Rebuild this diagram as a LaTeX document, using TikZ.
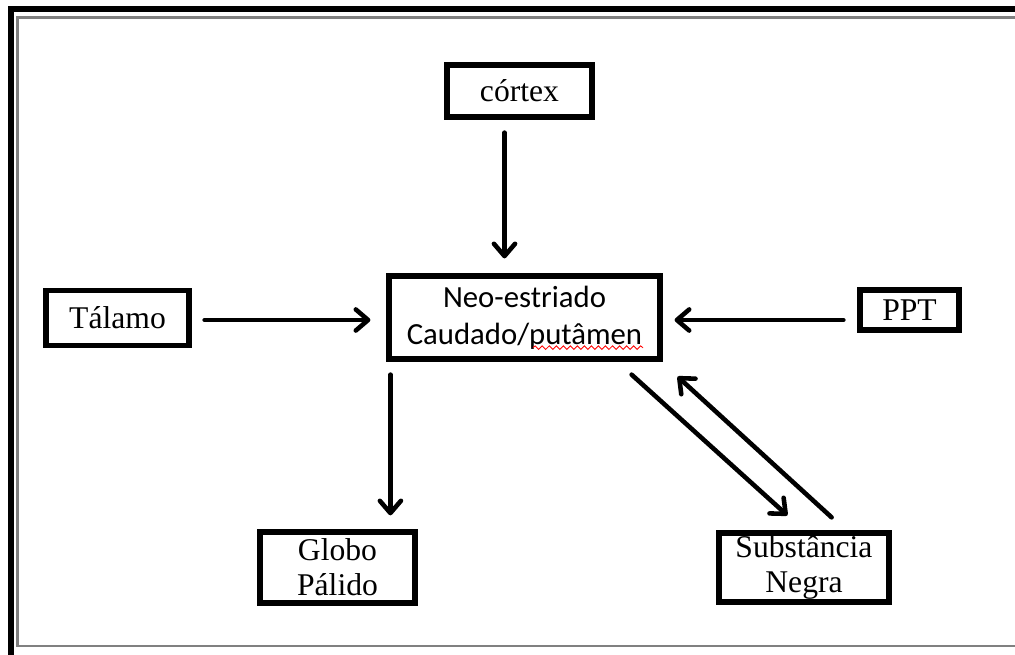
\documentclass[tikz,border=0pt]{standalone}
\usepackage{fontspec}
\setmainfont{Liberation Serif}
\newfontfamily\calibri{Carlito}
\usetikzlibrary{arrows.meta, positioning, calc, decorations.pathmorphing}

\begin{document}
\begin{tikzpicture}[x=0.02cm, y=-0.02cm,
            area/.style={draw, line width=3pt, inner sep=0pt, align=center, font=\fontsize{18}{20}\selectfont},
            neobox/.style={area, font=\calibri\fontsize{17.5}{21}\selectfont},
            arrow/.style={-{Straight Barb[length=7pt, width=12pt, line cap=round, line join=round]}, line width=2.6pt, line cap=round}
        ]
        \useasboundingbox (0,0) rectangle (1015,655);

        % Page frame
        \draw[line width=3.4pt] (11,655) -- (11,9) -- (1015,9);
        \draw[gray, line width=1.5pt] (1015,17.5) -- (17.5,17.5) -- (17.5,646) -- (1015,646);

        % Regions
        \node[area, minimum width=2.9cm, minimum height=1.04cm] (cortex) at (519.5, 91) {córtex};
        \node[area, minimum width=2.86cm, minimum height=1.1cm] (talamo) at (117.5, 318) {Tálamo};
        \node[area, minimum width=1.98cm, minimum height=0.8cm] (ppt) at (909.5, 310) {PPT};
        \node[neobox, minimum width=5.42cm, minimum height=1.66cm] (neo) at (524.5, 317.5) {Neo-estriado\\Caudado/putâmen};
        \node[area, minimum width=3.1cm, minimum height=1.42cm] (globo) at (337.5, 567.5) {Globo\\Pálido};
        \node[area, minimum width=3.4cm, minimum height=1.38cm] (substancia) at (804, 567.5) {Substância\\Negra};

        % Spelling mark under putâmen
        \draw[red, line width=0.5pt, decorate, decoration={snake, segment length=4, amplitude=1}] ($(neo.south)+(8.5,-14)$) -- ($(neo.south)+(118.5,-14)$);

        % Inputs to the striatum
        \draw[arrow] ($(cortex.south)+(-15,13)$) -- ($(cortex.south |- neo.north)+(-15,-15)$);
        \draw[arrow] ($(talamo.east)+(13,2)$) -- ($(neo.west |- talamo.east)+(-16,2)$);
        \draw[arrow] ($(ppt.west |- neo.east)+(-14,2.5)$) -- ($(neo.east)+(12,2.5)$);

        % Outputs and loop with substância negra
        \draw[arrow] ($(neo.south west)+(4,13)$) -- ($(neo.south west |- globo.north)+(4,-14)$);
        \draw[arrow] ($(neo.south east)+(-31,13)$) -- ($(substancia.north west)+(71,-15)$);
        \draw[arrow] ($(substancia.north east)+(-60,-13)$) -- ($(neo.south east)+(15,15)$);

\end{tikzpicture}
\end{document}
